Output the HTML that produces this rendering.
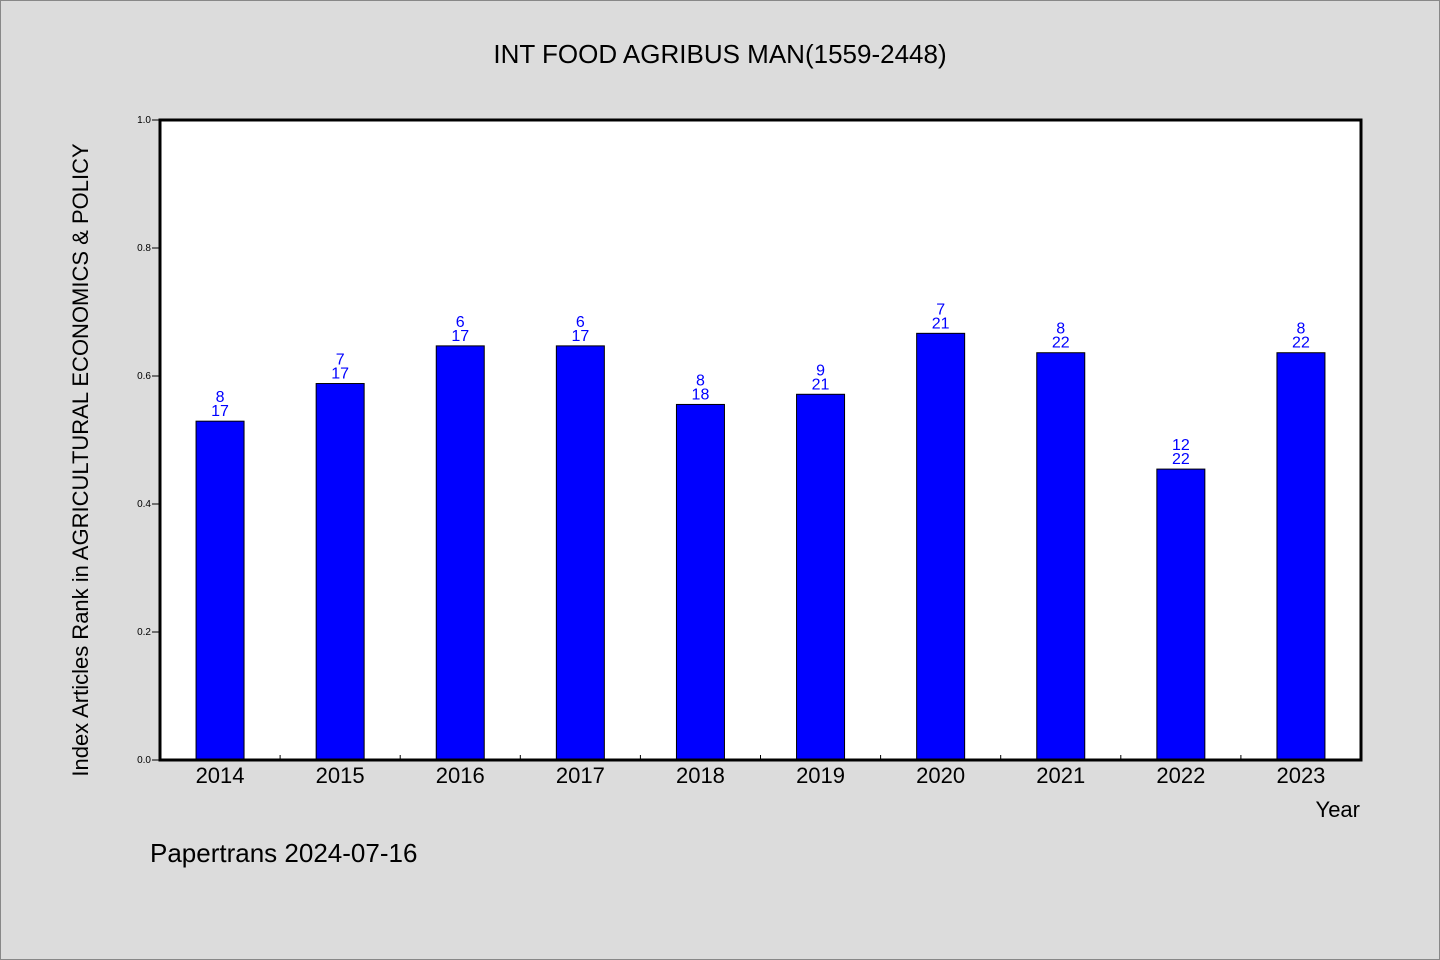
<!DOCTYPE html>
<html><head><meta charset="utf-8">
<style>
html,body{margin:0;padding:0;background:#dcdcdc;}
svg{display:block;font-family:"WenQuanYi Zen Hei","Liberation Sans",sans-serif;}
</style></head>
<body>
<svg id="chart" width="1440" height="960" viewBox="0 0 1440 960">
<rect x="0.5" y="0.5" width="1439" height="959" fill="#dcdcdc" stroke="#888"/>
<text x="720" y="63" text-anchor="middle" font-size="26" fill="#000">INT FOOD AGRIBUS MAN(1559-2448)</text>
<rect x="160" y="120" width="1201" height="640" fill="#fff"/>
<g id="ticks"></g>
<g id="bars"></g>
<rect x="160" y="120" width="1201" height="640" fill="none" stroke="#000" stroke-width="3"/>
<text transform="translate(88,460) rotate(-90)" text-anchor="middle" font-size="22" fill="#000">Index Articles Rank in AGRICULTURAL ECONOMICS &amp; POLICY</text>
<text x="1360" y="817" text-anchor="end" font-size="22" fill="#000">Year</text>
<text x="150" y="862" font-size="26" fill="#000">Papertrans 2024-07-16</text>
</svg>
<script>
const years = ["2014","2015","2016","2017","2018","2019","2020","2021","2022","2023"];
const ranks = [8,7,6,6,8,9,7,8,12,8];
const totals = [17,17,17,17,18,21,21,22,22,22];
const yTicks = [0.0,0.2,0.4,0.6,0.8,1.0];

const NS="http://www.w3.org/2000/svg";
const X0=160, W=1201, Y0=760, H=640;
const band=W/years.length;
const xCenter=i=>X0+band*i+band/2;
const yScale=v=>Y0-v*H;
function mk(tag,attrs,parent,text){const e=document.createElementNS(NS,tag);for(const k in attrs)e.setAttribute(k,attrs[k]);if(text!==undefined)e.textContent=text;parent.appendChild(e);return e;}
const tg=document.getElementById('ticks'), bg=document.getElementById('bars');
yTicks.forEach(t=>{
  const y=yScale(t);
  const l=mk('line',{x1:152,x2:160,y1:y,y2:y,stroke:'#000'},tg);
  
  
  const tx=mk('text',{x:151,y:y+3,'text-anchor':'end','font-size':10,fill:'#000'},tg,t.toFixed(1));
  
  
});
years.forEach((yr,i)=>{
  if(i>0){const bx=X0+band*i;
    const l=mk('line',{x1:bx,x2:bx,y1:Y0,y2:Y0-5,stroke:'#000'},tg);
    
    }
  const tx=mk('text',{x:xCenter(i),y:783,'text-anchor':'middle','font-size':22,fill:'#000'},tg,yr);
  
  
  const v=1-ranks[i]/totals[i];
  const top=yScale(v);
  const r=mk('rect',{x:xCenter(i)-24,y:top,width:48,height:Y0-top,fill:'#0000ff',stroke:'#000','stroke-width':1},bg);
  
  
  const a=mk('text',{x:xCenter(i),y:top-19,'text-anchor':'middle','font-size':16,fill:'#0000ff'},bg,String(ranks[i]));
  
  
  const b=mk('text',{x:xCenter(i),y:top-5,'text-anchor':'middle','font-size':16,fill:'#0000ff'},bg,String(totals[i]));
  
  
});
</script>
</body></html>
